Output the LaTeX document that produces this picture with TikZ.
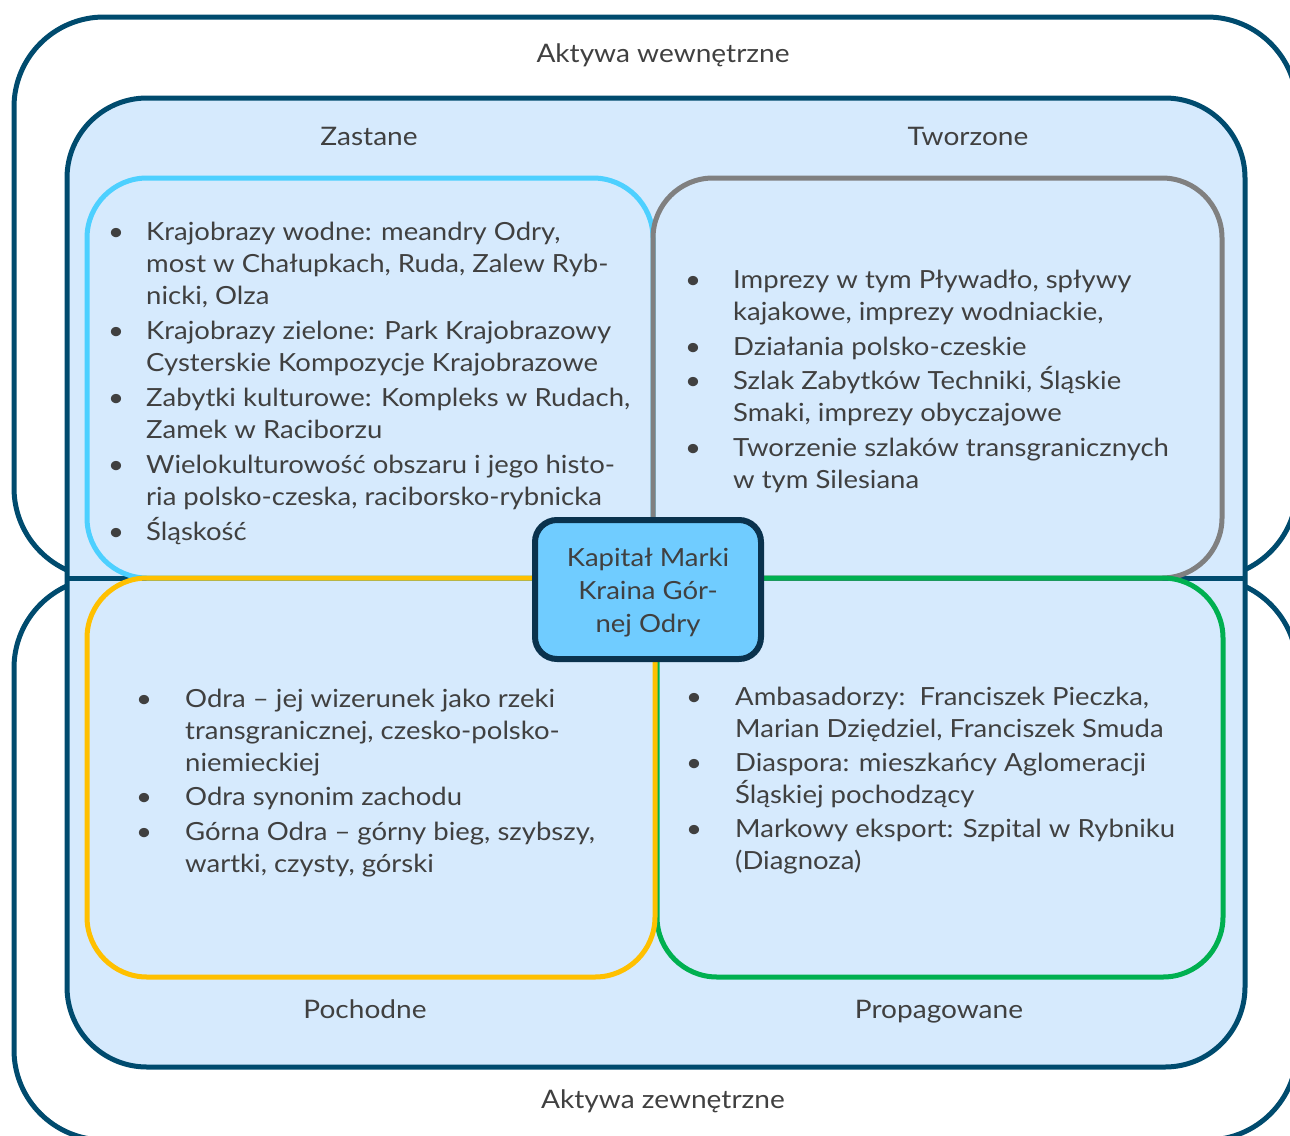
\documentclass[tikz,border=0pt]{standalone}
\usepackage{fontspec}
\setmainfont{Lato}[FakeStretch=1.1]
\usepackage{tikz}
\definecolor{granat}{RGB}{0,75,110}
\definecolor{jasny}{RGB}{214,234,253}
\definecolor{cyjan}{RGB}{77,208,255}
\definecolor{szary}{RGB}{128,128,128}
\definecolor{zolty}{RGB}{255,192,0}
\definecolor{zielony}{RGB}{0,176,80}
\definecolor{blekit}{RGB}{112,204,255}
\definecolor{ciemny}{RGB}{10,50,77}
\definecolor{grafit}{RGB}{64,64,64}
\tikzset{ramka/.style = {draw = granat, line width = 5pt, rounded corners = 90pt}}
\tikzset{pole/.style = {line width = 5pt, rounded corners = 60pt}}
\tikzset{kapital/.style = {draw = ciemny, fill = blekit, line width = 6pt, rounded corners = 22pt,
    minimum width = 226pt, minimum height = 139pt, inner sep = 0}}
\tikzset{tytul/.style = {text = grafit, font = \fontsize{25.5}{33}\selectfont, inner sep = 0, anchor = base}}
\tikzset{lista/.style = {text = grafit, font = \fontsize{25}{32}\selectfont, inner sep = 0, anchor = base west}}
\begin{document}
\begin{tikzpicture}[x=1pt, y=-1pt]
      \useasboundingbox (0, 0) rectangle (1290, 1135);
      \draw [ramka] (14, 17) rectangle (1297, 578);
      \draw [ramka] (14, 578) rectangle (1297, 1140);
      \draw [ramka, fill = jasny, rounded corners = 80pt] (67, 98) rectangle (1245, 1067);
      \draw [granat, line width = 5pt] (67, 578) -- (1245, 578);

      \draw [pole, draw = cyjan] (87, 178) rectangle (653, 578);
      \draw [pole, draw = szary] (653, 178) rectangle (1222, 578);
      \draw [pole, draw = zielony] (657, 578) rectangle (1223, 977);
      \draw [pole, draw = zolty] (87, 578) rectangle (655, 977);

      \node [tytul] (wewnetrzne) at (663, 62) {Aktywa wewnętrzne};
      \node [tytul] (zastane) at (369, 145) {Zastane};
      \node [tytul] (tworzone) at (968, 145) {Tworzone};
      \node [tytul] (pochodne) at (365, 1018) {Pochodne};
      \node [tytul] (propagowane) at (939, 1018) {Propagowane};
      \node [tytul] (zewnetrzne) at (663, 1108) {Aktywa zewnętrzne};

      \node [lista] (zastane-lista) at (108, 240) {\begin{tabular}[t]{@{}p{38pt}@{}l@{}}
        \textbullet & Krajobrazy wodne: meandry Odry,\\
        & most w Chałupkach, Ruda, Zalew Ryb-\\
        & nicki, Olza\\[3pt]
        \textbullet & Krajobrazy zielone: Park Krajobrazowy\\
        & Cysterskie Kompozycje Krajobrazowe\\[3pt]
        \textbullet & Zabytki kulturowe: Kompleks w Rudach,\\
        & Zamek w Raciborzu\\[3pt]
        \textbullet & Wielokulturowość obszaru i jego histo-\\
        & ria polsko-czeska, raciborsko-rybnicka\\[3pt]
        \textbullet & Śląskość
      \end{tabular}};

      \node [lista] (tworzone-lista) at (685, 288) {\begin{tabular}[t]{@{}p{48pt}@{}l@{}}
        \textbullet & Imprezy w tym Pływadło, spływy\\
        & kajakowe, imprezy wodniackie,\\[3pt]
        \textbullet & Działania polsko-czeskie\\[2pt]
        \textbullet & Szlak Zabytków Techniki, Śląskie\\
        & Smaki, imprezy obyczajowe\\[3pt]
        \textbullet & Tworzenie szlaków transgranicznych\\
        & w tym Silesiana
      \end{tabular}};

      \node [lista] (pochodne-lista) at (136, 707) {\begin{tabular}[t]{@{}p{49pt}@{}l@{}}
        \textbullet & Odra – jej wizerunek jako rzeki\\
        & transgranicznej, czesko-polsko-\\
        & niemieckiej\\[2pt]
        \textbullet & Odra synonim zachodu\\[3pt]
        \textbullet & Górna Odra – górny bieg, szybszy,\\
        & wartki, czysty, górski
      \end{tabular}};

      \node [lista] (propagowane-lista) at (686, 705) {\begin{tabular}[t]{@{}p{49pt}@{}l@{}}
        \textbullet & Ambasadorzy:\ \ Franciszek Pieczka,\\
        & Marian Dziędziel, Franciszek Smuda\\[2pt]
        \textbullet & Diaspora: mieszkańcy Aglomeracji\\
        & Śląskiej pochodzący\\[2pt]
        \textbullet & Markowy eksport: Szpital w Rybniku\\
        & (Diagnoza)
      \end{tabular}};

      \node [kapital] (kapital) at (648, 589.5) {};
      \node [tytul, font = \fontsize{25}{33}\selectfont] (kapital-tekst) at (kapital.center |- 0, 566) {\begin{tabular}[t]{@{}c@{}}
        Kapitał Marki\\Kraina Gór-\\nej Odry
      \end{tabular}};
    \end{tikzpicture}
\end{document}
